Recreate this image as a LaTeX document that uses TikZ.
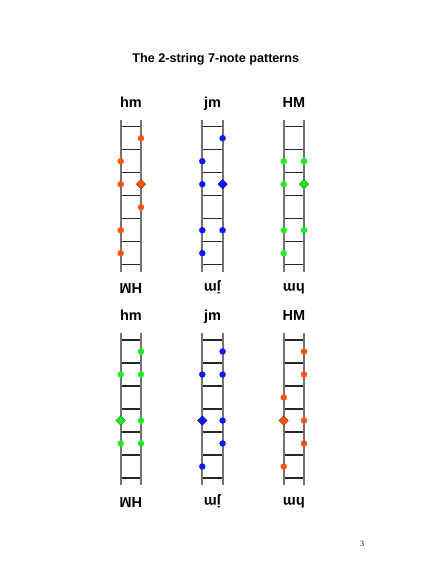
\documentclass[tikz,border=0pt]{standalone}
\usepackage{fontspec}
\setmainfont{Liberation Sans}
\newfontfamily\pagefont{Liberation Serif}
\usetikzlibrary{shapes.geometric}

\definecolor{orng}{RGB}{255,85,10}
\definecolor{blu}{RGB}{15,25,255}
\definecolor{grn}{RGB}{30,240,30}

\tikzset{
	rail/.style={draw=gray!90!black, line width=2.2pt},
	rung/.style={draw=black!85, line width=1.3pt},
	note/.style={circle, inner sep=0pt, minimum size=6.5pt},
	root/.style={diamond, draw=#1!60!black, fill=#1, line width=0.5pt, inner sep=0pt, minimum size=9.5pt},
	patlabel/.style={font=\bfseries\fontsize{14.5}{16}\selectfont, anchor=base, inner sep=0pt}
}

\begin{document}
\begin{tikzpicture}[x=1pt,y=-1pt]
	\useasboundingbox (0,0) rectangle (427,565);

	\node[font=\bfseries\fontsize{12.6}{14}\selectfont, anchor=base, inner sep=0pt] (title) at (215.8,62) {The 2-string 7-note patterns};

	% ladder / left rail x / top rung y / colour / label / turned label / root side / root fret / notes
	\foreach \p/\x/\y/\c/\up/\dn/\ds/\df/\notes in {
		a/120.7/126.7/orng/hm/HM/1/3/{1/1,0/2,0/3,1/4,0/5,0/6},
		b/202.3/126.7/blu/jm/jm/1/3/{1/1,0/2,0/3,0/5,1/5,0/6},
		c/283.7/126.7/grn/HM/hm/1/3/{0/2,1/2,0/3,0/5,1/5,0/6},
		d/120.7/340/grn/hm/HM/0/4/{1/1,0/2,1/2,1/4,0/5,1/5},
		e/202.3/340/blu/jm/jm/0/4/{1/1,0/2,1/2,1/4,1/5,0/6},
		f/283.7/340/orng/HM/hm/0/4/{1/1,1/2,0/3,1/4,1/5,0/6}}
	{
		\begin{scope}[shift={(\x,\y)}]
			\draw[rail] (0,-7.2) -- (0,145.2);
			\draw[rail] (20.3,-7.2) -- (20.3,145.2);
			\foreach \r in {0,...,6}
			\draw[rung] (1,\r*23) -- (19.3,\r*23);

			\foreach \s/\f in \notes
			\node[note, fill=\c] (\p-\s\f) at ({\s*20.3},{(\f-0.5)*23}) {};
			\node[root=\c] (\p-root) at ({\ds*20.3},{(\df-0.5)*23}) {};

			\node[patlabel] (\p-up) at (10.2,-19.2) {\up};
			\node[patlabel, rotate=180] (\p-dn) at (10.2,157) {\dn};
		\end{scope}
	}

	\node[font=\pagefont\fontsize{8}{9}\selectfont, anchor=base, inner sep=0pt] (page) at (362,546) {3};
\end{tikzpicture}
\end{document}
